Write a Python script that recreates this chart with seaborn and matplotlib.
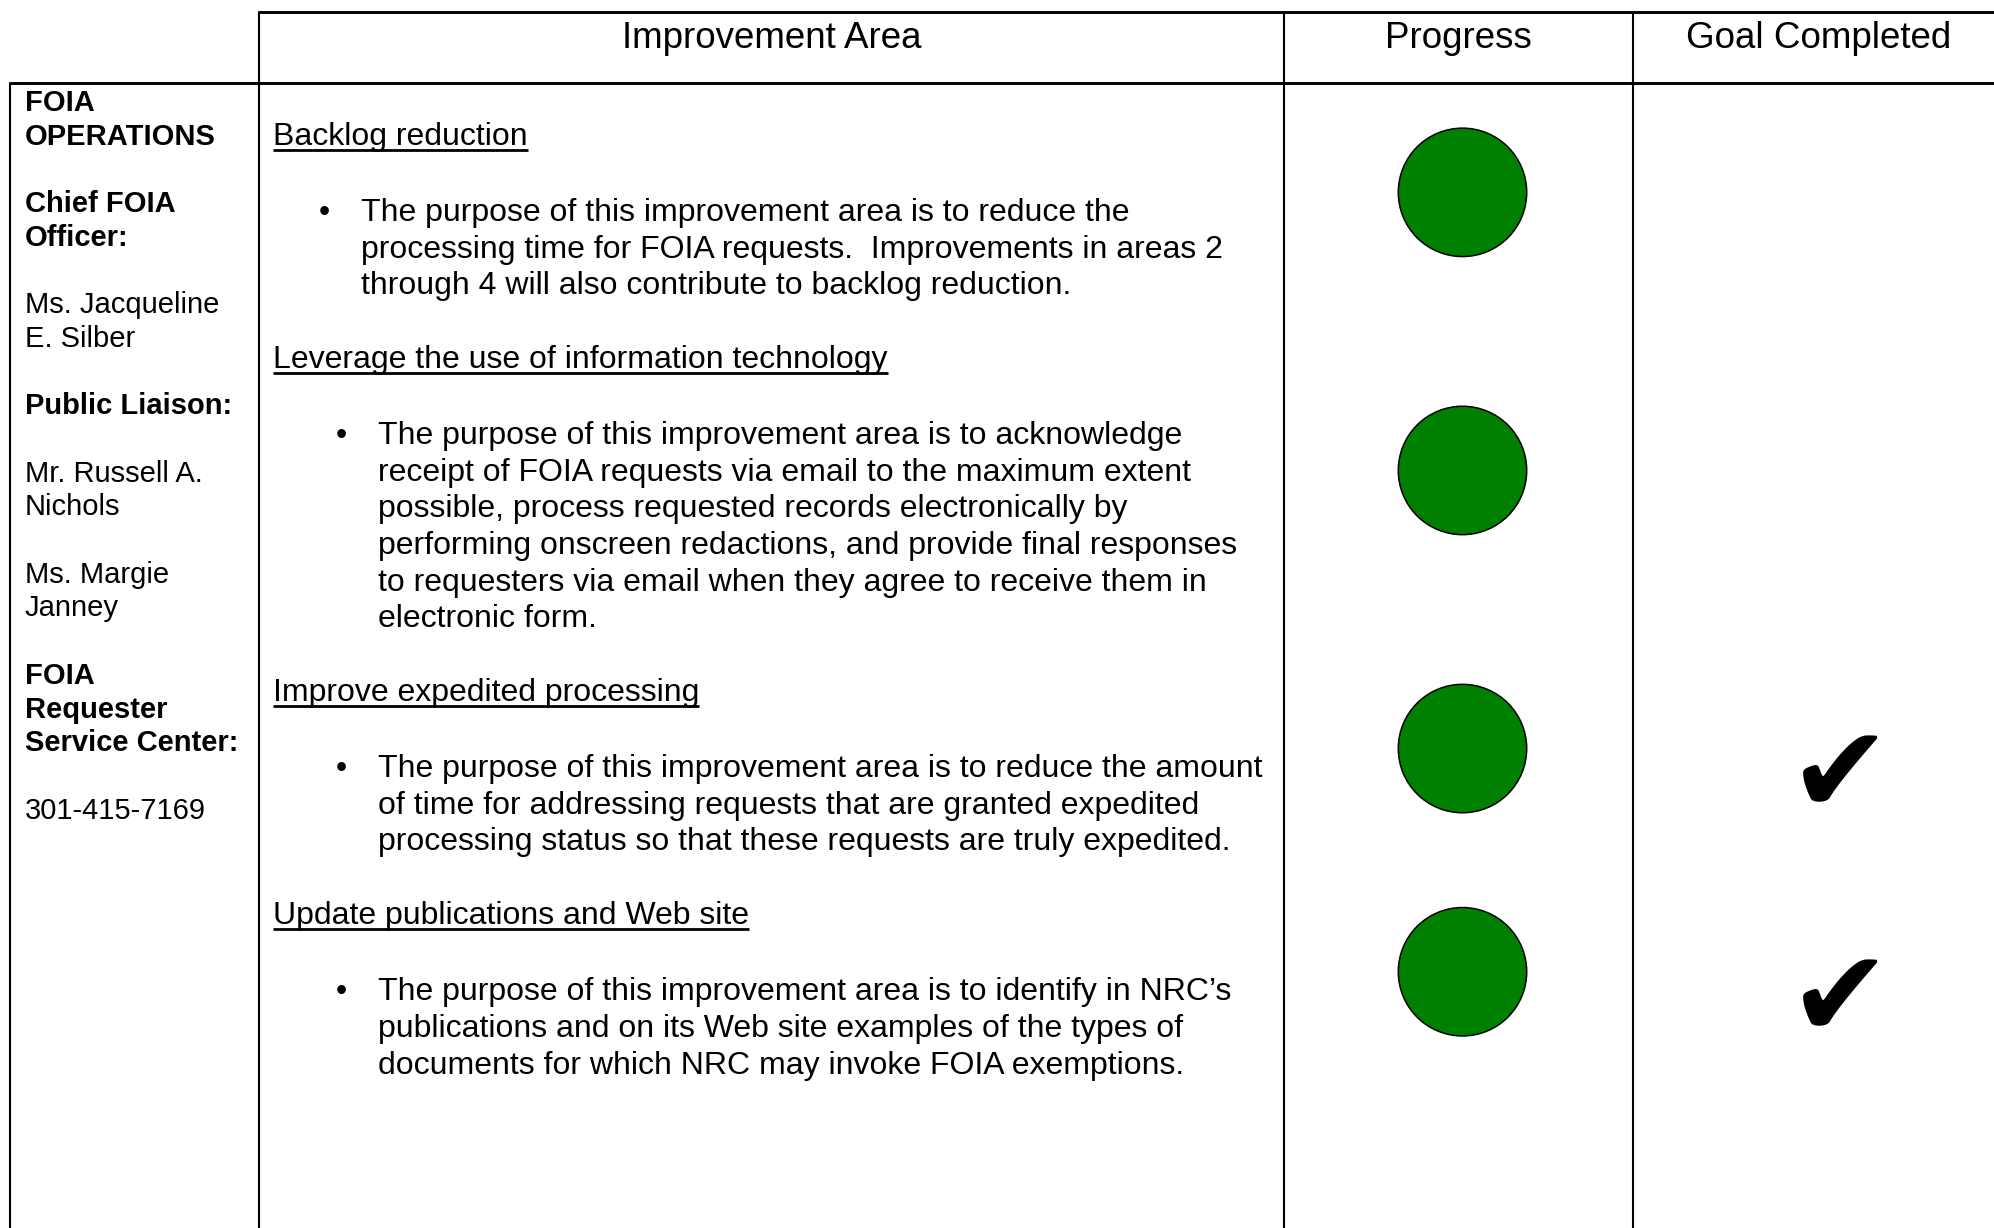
import matplotlib
matplotlib.use("Agg")
import matplotlib.pyplot as plt
import seaborn as sns
import pandas as pd

# Table content
column_titles = ["Improvement Area", "Progress", "Goal Completed"]

contact_lines = [
    ("FOIA", True), ("OPERATIONS", True), ("", False),
    ("Chief FOIA", True), ("Officer:", True), ("", False),
    ("Ms. Jacqueline", False), ("E. Silber", False), ("", False),
    ("Public Liaison:", True), ("", False),
    ("Mr. Russell A.", False), ("Nichols", False), ("", False),
    ("Ms. Margie", False), ("Janney", False), ("", False),
    ("FOIA", True), ("Requester", True), ("Service Center:", True), ("", False),
    ("301-415-7169", False),
]

area_titles = [
    "Backlog reduction",
    "Leverage the use of information technology",
    "Improve expedited processing",
    "Update publications and Web site",
]

area_descriptions = [
    ["The purpose of this improvement area is to reduce the",
     "processing time for FOIA requests.  Improvements in areas 2",
     "through 4 will also contribute to backlog reduction."],
    ["The purpose of this improvement area is to acknowledge",
     "receipt of FOIA requests via email to the maximum extent",
     "possible, process requested records electronically by",
     "performing onscreen redactions, and provide final responses",
     "to requesters via email when they agree to receive them in",
     "electronic form."],
    ["The purpose of this improvement area is to reduce the amount",
     "of time for addressing requests that are granted expedited",
     "processing status so that these requests are truly expedited."],
    ["The purpose of this improvement area is to identify in NRC\u2019s",
     "publications and on its Web site examples of the types of",
     "documents for which NRC may invoke FOIA exemptions."],
]

progress_status = ["green", "green", "green", "green"]
goal_completed = [False, False, True, True]

# Style
sns.set_theme(style="white")
plt.rcParams["font.family"] = ["Liberation Sans", "DejaVu Sans"]

W, H = 1994, 1228
fig = plt.figure(figsize=(W / 100, H / 100), dpi=100)
ax = fig.add_axes([0, 0, 1, 1])
ax.set_xlim(0, W)
ax.set_ylim(H, 0)
ax.axis("off")

# Grid layout (pixels)
col_x = [10, 259, 1284, 1633, 2004]
head_top, body_top = 11.5, 82.5
ax.plot([col_x[1], W], [head_top, head_top], color="black", lw=2.1, solid_capstyle="butt")
ax.plot([col_x[0], W], [body_top, body_top], color="black", lw=2.1, solid_capstyle="butt")
ax.plot([col_x[0], col_x[0]], [body_top, H], color="black", lw=1.5)
for x in col_x[1:4]:
    ax.plot([x, x], [head_top, H], color="black", lw=1.5)

for i, title in enumerate(column_titles):
    cx = (col_x[i + 1] + col_x[i + 2]) / 2
    ax.text(cx, 38, title, ha="center", va="center", fontsize=26.5, color="black")

# Left column contacts
for k, (txt, bold) in enumerate(contact_lines):
    if txt:
        ax.text(25, 103 + 33.7 * k, txt, ha="left", va="center", fontsize=21,
                fontweight="bold" if bold else "normal", color="black")

# Improvement areas
fig.canvas.draw()
renderer = fig.canvas.get_renderer()
inv = ax.transData.inverted()

line_step = 36.6
y = 136.5
row_centers = []
first_lines = []
for i, (title, desc) in enumerate(zip(area_titles, area_descriptions)):
    t = ax.text(273, y, title, ha="left", va="center", fontsize=23, color="black")
    bb = t.get_window_extent(renderer)
    (x0, _), (x1, _) = inv.transform([(bb.x0, bb.y0), (bb.x1, bb.y1)])
    ax.plot([x0, x1], [y + 13, y + 13], color="black", lw=2.0, solid_capstyle="butt")
    bx = 319 if i == 0 else 336
    tx = 361 if i == 0 else 378
    ly = y + 76.5
    first_lines.append(ly)
    ax.text(bx, ly, "\u2022", ha="left", va="center", fontsize=23, color="black")
    for line in desc:
        ax.text(tx, ly, line, ha="left", va="center", fontsize=23, color="black")
        ly += line_step
    last = ly - line_step
    row_centers.append((y + last) / 2 - 19)
    y = last + 73.5

# Progress circles
df = pd.DataFrame({
    "x": [(col_x[2] + col_x[3]) / 2 + 4] * len(progress_status),
    "y": row_centers,
    "status": progress_status,
})
sns.scatterplot(data=df, x="x", y="y", hue="status", palette={"green": "#008000"},
                s=8550, edgecolor="black", linewidth=1.1, legend=False, ax=ax, zorder=3)
ax.set_xlim(0, W)
ax.set_ylim(H, 0)
ax.axis("off")

# Completed checks
for yc, done in zip(first_lines, goal_completed):
    if done:
        ax.text(1840, yc + 10, "\u2714", ha="center", va="center", fontsize=88,
                family="DejaVu Sans", color="black")

fig.savefig("out.png", dpi=100)
